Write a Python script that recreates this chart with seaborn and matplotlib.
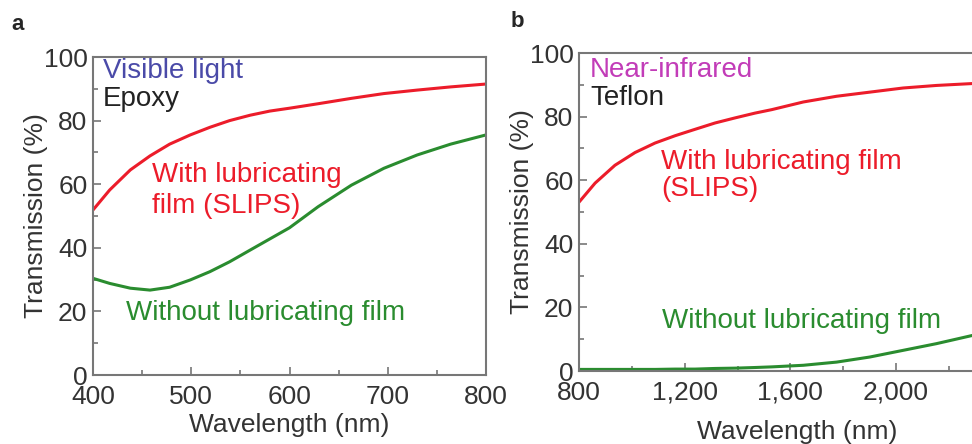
import numpy as np
import pandas as pd
import seaborn as sns
import matplotlib.pyplot as plt
from matplotlib.ticker import MultipleLocator, FuncFormatter

# panel a: visible light, epoxy
wl_a = [400, 417, 438, 458, 478, 499, 519, 539, 560, 580, 600,
        629, 663, 696, 730, 764, 800]
with_a = [51.9, 58.2, 64.5, 68.9, 72.6, 75.5, 77.9, 80.0, 81.7, 83.0, 83.9,
          85.3, 87.0, 88.5, 89.6, 90.6, 91.5]
without_a = [30.4, 28.8, 27.3, 26.7, 27.6, 29.9, 32.5, 35.6, 39.3, 42.8, 46.3,
             52.9, 59.7, 65.0, 69.2, 72.6, 75.5]

# panel b: near-infrared, teflon
wl_b = [800, 861, 936, 1012, 1088, 1164, 1239, 1315, 1391, 1466, 1530,
        1649, 1775, 1901, 2027, 2153, 2290]
with_b = [53.1, 59.1, 64.7, 68.7, 71.7, 74.0, 76.0, 78.0, 79.6, 81.1, 82.2,
          84.6, 86.4, 87.7, 89.0, 89.8, 90.4]
without_b = [0.5, 0.5, 0.5, 0.5, 0.5, 0.6, 0.6, 0.8, 0.9, 1.1, 1.3,
             1.8, 2.8, 4.4, 6.5, 8.6, 11.2]

xticks_b = [800, 1200, 1600, 2000]

sns.set_style("ticks")
plt.rcParams["font.family"] = ["Liberation Sans", "DejaVu Sans"]

RED = "#ec1c2a"
GREEN = "#2a8c2f"
GREY = "#333333"

fig = plt.figure(figsize=(9.72, 4.44), dpi=100)
ax_a = fig.add_axes([0.0957, 0.1554, 0.4043, 0.7162])
ax_b = fig.add_axes([0.5957, 0.1644, 0.462, 0.7162])

df_a = pd.DataFrame({"wl": wl_a * 2, "T": with_a + without_a,
                     "film": ["with"] * len(wl_a) + ["without"] * len(wl_a)})
df_b = pd.DataFrame({"wl": wl_b * 2, "T": with_b + without_b,
                     "film": ["with"] * len(wl_b) + ["without"] * len(wl_b)})

for ax, df in [(ax_a, df_a), (ax_b, df_b)]:
    sns.lineplot(data=df, x="wl", y="T", hue="film", palette=[RED, GREEN],
                 lw=2.2, legend=False, ax=ax)
    ax.set_ylim(0, 100)
    ax.yaxis.set_major_locator(MultipleLocator(20))
    ax.yaxis.set_minor_locator(MultipleLocator(10))
    ax.tick_params(which="both", direction="in", colors="#777777",
                   labelcolor=GREY, labelsize=19, width=1.2)
    ax.tick_params(which="major", length=6)
    ax.tick_params(which="minor", length=3.5)
    ax.tick_params(axis="x", pad=7)
    ax.tick_params(axis="y", pad=4)
    for s in ax.spines.values():
        s.set_color("#777777")
        s.set_linewidth(1.5)
    ax.set_ylabel("Transmission (%)", fontsize=19, color=GREY, labelpad=-3.5)
    ax.set_xlabel("Wavelength (nm)", fontsize=19, color=GREY)

ax_a.xaxis.set_label_coords(0.5, -0.12)
# panel b axis runs past the figure edge; center label where the reference has it
ax_b.xaxis.set_label_coords(0.486, -0.155)

ax_a.set_xlim(400, 800)
ax_a.xaxis.set_major_locator(MultipleLocator(100))
ax_a.xaxis.set_minor_locator(MultipleLocator(50))

ax_b.set_xlim(800, 2500)
ax_b.set_xticks(xticks_b)
ax_b.xaxis.set_minor_locator(MultipleLocator(200))
ax_b.xaxis.set_major_formatter(FuncFormatter(lambda v, p: f"{int(v):,}"))

fs = 20
ax_a.text(410, 95.7, "Visible light", color="#4a4aa8", fontsize=fs, va="center")
ax_a.text(410, 86.7, "Epoxy", color="#222222", fontsize=fs, va="center")
ax_a.text(460, 63, "With lubricating", color=RED, fontsize=fs, va="center")
ax_a.text(460, 53, "film (SLIPS)", color=RED, fontsize=fs, va="center")
ax_a.text(434, 19.5, "Without lubricating film", color=GREEN, fontsize=fs, va="center")

ax_b.text(842, 94.6, "Near-infrared", color="#c23cb8", fontsize=fs, va="center")
ax_b.text(842, 85.7, "Teflon", color="#222222", fontsize=fs, va="center")
ax_b.text(1110, 65.7, "With lubricating film", color=RED, fontsize=fs, va="center")
ax_b.text(1110, 57.3, "(SLIPS)", color=RED, fontsize=fs, va="center")
ax_b.text(1114, 15.8, "Without lubricating film", color=GREEN, fontsize=fs, va="center")

fig.text(0.012, 0.945, "a", fontsize=16, fontweight="bold", va="center")
fig.text(0.525, 0.952, "b", fontsize=16, fontweight="bold", va="center")

fig.savefig("out.png", dpi=100)
